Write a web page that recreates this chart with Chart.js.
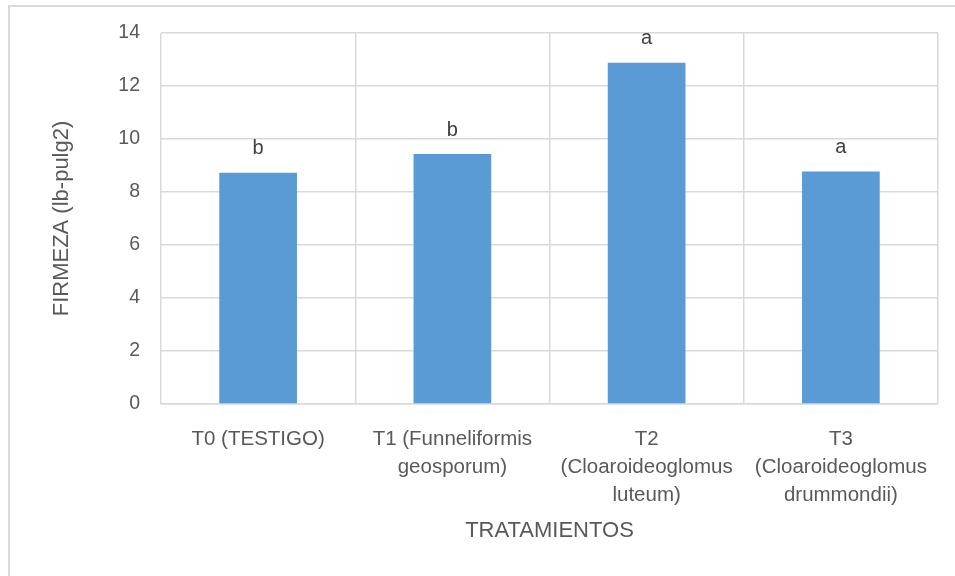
<!DOCTYPE html>
<html>
<head>
<meta charset="utf-8">
<script src="https://cdn.jsdelivr.net/npm/chart.js@4.4.0/dist/chart.umd.min.js"></script>
<style>
  html, body { margin: 0; padding: 0; background: #fff; }
  #wrap { position: relative; width: 955px; height: 576px; }
</style>
</head>
<body>
<div id="wrap"><canvas id="firmeza"></canvas></div>
<script>
// datos del gráfico
const categories = [
    ['T0 (TESTIGO)'],
    ['T1 (Funneliformis', 'geosporum)'],
    ['T2', '(Cloaroideoglomus', 'luteum)'],
    ['T3', '(Cloaroideoglomus', 'drummondii)']
];
const firmeza = [8.73, 9.43, 12.88, 8.77];
const letras = ['b', 'b', 'a', 'a'];

const TEXT = '#595959';
const GRID = '#d9d9d9';
const FONT = "'Liberation Sans', Arial, sans-serif";

// borde exterior (recortado)
const marcoPlugin = {
    id: 'marco',
    beforeDraw(chart) {
        const c = chart.ctx;
        c.save();
        c.strokeStyle = GRID;
        c.lineWidth = 2;
        c.beginPath();
        c.moveTo(9, 576);
        c.lineTo(9, 6);
        c.lineTo(955, 6);
        c.stroke();
        c.restore();
    }
};

// letras de significancia encima de las barras
const letrasPlugin = {
    id: 'letras',
    afterDatasetsDraw(chart) {
        const c = chart.ctx;
        const meta = chart.getDatasetMeta(0);
        c.save();
        c.fillStyle = '#404040';
        c.font = '20px ' + FONT;
        c.textAlign = 'center';
        c.textBaseline = 'middle';
        meta.data.forEach((bar, i) => {
            c.fillText(letras[i], bar.x, bar.y - 24);
        });
        c.restore();
    }
};

const ctx = document.getElementById('firmeza').getContext('2d');
new Chart(ctx, {
    type: 'bar',
    data: {
        labels: categories,
        datasets: [{
            data: firmeza,
            backgroundColor: '#5b9bd5',
            borderWidth: 0,
            categoryPercentage: 1,
            barPercentage: 0.4
        }]
    },
    options: {
        responsive: true,
        maintainAspectRatio: false,
        animation: false,
        layout: { padding: { top: 33, right: 17, bottom: 0, left: 0 } },
        plugins: {
            legend: { display: false },
            tooltip: { enabled: false }
        },
        scales: {
            x: {
                grid: { color: GRID, lineWidth: 1.5, drawTicks: false },
                border: { color: GRID, width: 1.5 },
                ticks: {
                    color: TEXT,
                    padding: 21,
                    maxRotation: 0,
                    autoSkip: false,
                    font: { family: FONT, size: 20.5, lineHeight: 28 / 20.5 }
                },
                title: {
                    display: true,
                    text: 'TRATAMIENTOS',
                    color: TEXT,
                    font: { family: FONT, size: 22 },
                    padding: { top: 0, bottom: 32 }
                },
                afterFit(scale) { scale.height = 172; }
            },
            y: {
                min: 0,
                max: 14,
                grid: { color: GRID, lineWidth: 1.5, drawTicks: false },
                border: { display: false },
                ticks: {
                    stepSize: 2,
                    color: TEXT,
                    padding: 21,
                    font: { family: FONT, size: 19.5 }
                },
                title: {
                    display: true,
                    text: 'FIRMEZA (lb-pulg2)',
                    color: TEXT,
                    font: { family: FONT, size: 22 },
                    padding: { top: 49, bottom: 0 }
                },
                afterFit(scale) { scale.width = 161; }
            }
        }
    },
    plugins: [marcoPlugin, letrasPlugin]
});
</script>
</body>
</html>
